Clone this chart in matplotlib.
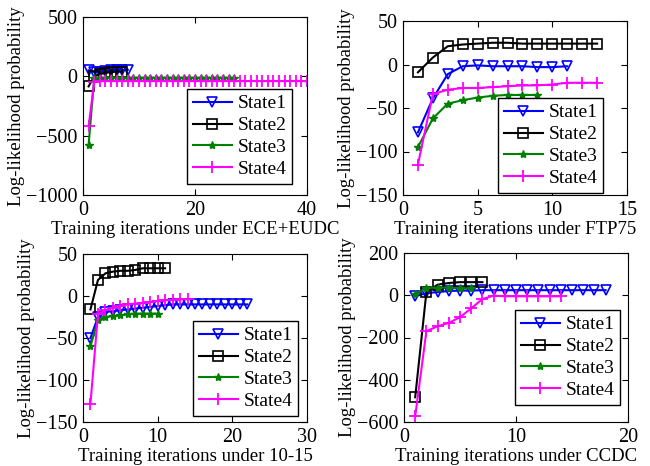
import matplotlib
matplotlib.use('Agg')
import matplotlib.pyplot as plt

plt.rcParams['font.family'] = 'Liberation Serif'

# ECE+EUDC
ece_s1 = [50, 35, 40, 45, 50, 55, 55, 55]
ece_s2 = [-85, 0, 20, 30, 35, 40, 40]
ece_s3 = [-580] + [-12] * 26
ece_s4 = [-420, -50] + [-40] * 38

# FTP75
ftp_s1 = [-78, -39, -11, -2, -1, -2, -2, -2, -3, -3, -2]
ftp_s2 = [-9, 8, 21, 23, 24, 25, 25, 24, 24, 24, 24, 24, 24]
ftp_s3 = [-95, -62, -45, -41, -38, -36, -35, -35, -35]
ftp_s4 = [-115, -34, -29, -27, -27, -26, -25, -24, -24, -23, -21, -21, -21]

# 10-15
t15_s1 = [-50, -25, -19, -18, -17, -16, -15, -14, -13, -12, -11] + [-10] * 11
t15_s2 = [-16, 19, 27, 29, 30, 30, 31, 33, 33, 33, 33]
t15_s3 = [-60, -28, -25, -24, -23, -22, -21, -21, -21, -21]
t15_s4 = [-128, -22, -17, -14, -12, -10, -9, -8, -7, -6, -5, -5, -4, -4]

# CCDC
ccdc_s1 = [-5, 10, 15, 20, 22, 22] + [24] * 12
ccdc_s2 = [-483, 15, 50, 58, 62, 62, 62]
ccdc_s3 = [5, 35, 36, 36, 33, 32]
ccdc_s4 = [-573, -170, -147, -131, -104, -62, -18, -2, -5, -5, -5, -5, -5, -5]

labels = ['State1', 'State2', 'State3', 'State4']
colors = ['#0000ff', 'black', 'green', 'magenta']
markers = ['v', 's', '*', '+']

panels = [
    ([ece_s1, ece_s2, ece_s3, ece_s4], 'Training iterations under ECE+EUDC',
     (0, 40), [0, 20, 40], (-1000, 500), [-1000, -500, 0, 500]),
    ([ftp_s1, ftp_s2, ftp_s3, ftp_s4], 'Training iterations under FTP75',
     (0, 15), [0, 5, 10, 15], (-150, 50), [-150, -100, -50, 0, 50]),
    ([t15_s1, t15_s2, t15_s3, t15_s4], 'Training iterations under 10-15',
     (0, 30), [0, 10, 20, 30], (-150, 50), [-150, -100, -50, 0, 50]),
    ([ccdc_s1, ccdc_s2, ccdc_s3, ccdc_s4], 'Training iterations under CCDC',
     (0, 20), [0, 10, 20], (-600, 200), [-600, -400, -200, 0, 200]),
]

W, H = 650, 466
# axes boxes in pixels: left, right, top, bottom
boxes = [(83, 307, 17, 195), (403, 627, 21, 195), (83, 307, 254, 422), (404, 628, 253, 422)]
legpos = [(187, 89), (498, 98), (193, 321), (515, 310)]

fig = plt.figure(figsize=(6.5, 4.66), dpi=100)

for (series, xlab, xl, xt, yl, yt), (l, r, t, b), (lx, ly) in zip(panels, boxes, legpos):
    ax = fig.add_axes([l / W, 1 - b / H, (r - l) / W, (b - t) / H])
    for ys, lab, c, m in zip(series, labels, colors, markers):
        xs = list(range(1, len(ys) + 1))
        if m == '*':
            ax.plot(xs, ys, color=c, marker=m, markersize=6, linewidth=1.5, label=lab)
        elif m == '+':
            ax.plot(xs, ys, color=c, marker=m, markersize=8, markeredgewidth=1.3, linewidth=1.5, label=lab)
        else:
            ax.plot(xs, ys, color=c, marker=m, markersize=7, markerfacecolor='none',
                    markeredgewidth=1.2, linewidth=1.5, label=lab)
    ax.set_xlim(xl)
    ax.set_ylim(yl)
    ax.set_xticks(xt)
    ax.set_yticks(yt)
    ax.tick_params(direction='in', top=True, right=True, labelsize=14.5, length=4, pad=4)
    ax.set_xlabel(xlab, fontsize=13.5, labelpad=1)
    ax.set_ylabel('Log-likelihood probability', fontsize=13.5, labelpad=1)
    leg = ax.legend(loc='upper left', bbox_to_anchor=(lx / W, 1 - ly / H),
                    bbox_transform=fig.transFigure, borderaxespad=0, fontsize=14,
                    fancybox=False, framealpha=1, edgecolor='black',
                    handlelength=2.0, labelspacing=0.22, borderpad=0.3,
                    handletextpad=0.3)
    leg.get_frame().set_linewidth(1.0)

fig.savefig('out.png', dpi=100)
